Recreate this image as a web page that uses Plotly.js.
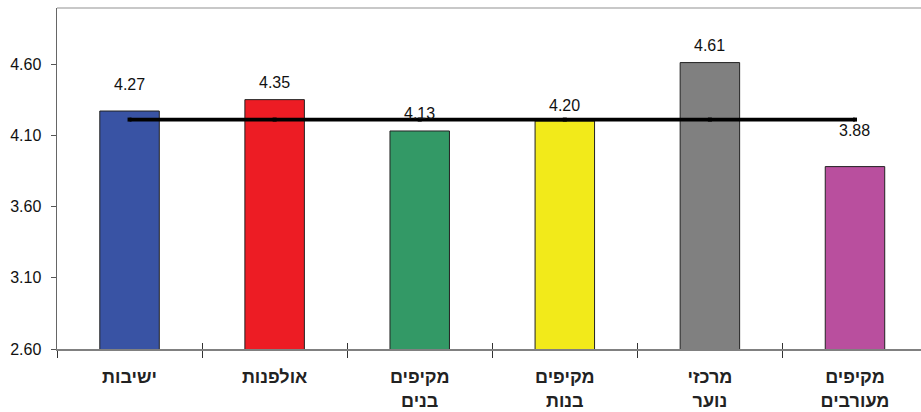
<!DOCTYPE html>
<html>
<head>
<meta charset="utf-8">
<script src="https://cdn.plot.ly/plotly-3.0.1.min.js"></script>
<style>
  html, body { margin: 0; padding: 0; background: #fff; }
  #chart { width: 921px; height: 412px; }
</style>
</head>
<body>
<div id="chart"></div>
<script>
// ---- data ----
const categories = ["ישיבות", "אולפנות", "מקיפים<br>בנים", "מקיפים<br>בנות", "מרכזי<br>נוער", "מקיפים<br>מעורבים"];
const values = [4.27, 4.35, 4.13, 4.20, 4.61, 3.88];
const valueLabels = ["4.27", "4.35", "4.13", "4.20", "4.61", "3.88"];
const averageLine = [4.21, 4.21, 4.21, 4.21, 4.21, 4.21];
const yTickVals = [2.6, 3.1, 3.6, 4.1, 4.6];
const yTickText = ["2.60", "3.10", "3.60", "4.10", "4.60"];

// ---- styles ----
const barColors = ["#3953A4", "#ED1C24", "#339966", "#F2EA1A", "#808080", "#B94F9E"];
const labelShift = [27, 17, 17, 16, 17, 36];
const FONT = "Arial, 'Liberation Sans', 'DejaVu Sans', sans-serif";

const bars = {
  type: "bar",
  x: categories,
  y: values,
  width: 0.41,
  marker: { color: barColors, line: { color: "#222", width: 1 } },
  hoverinfo: "skip",
  showlegend: false
};

const line = {
  type: "scatter",
  mode: "lines+markers",
  x: categories,
  y: averageLine,
  line: { color: "#000", width: 3.8 },
  marker: { symbol: "square", size: 4, color: "#000" },
  hoverinfo: "skip",
  showlegend: false
};

// dummy trace for the inner-tick overlay axis
const dummy = {
  type: "scatter", mode: "markers",
  x: categories, y: values,
  xaxis: "x2", yaxis: "y",
  marker: { opacity: 0 }, hoverinfo: "skip", showlegend: false
};

const annotations = values.map((v, i) => ({
  x: categories[i], y: v, xref: "x", yref: "y",
  text: valueLabels[i], showarrow: false,
  yanchor: "middle", yshift: labelShift[i],
  font: { family: FONT, size: 16, color: "#111" }
}));

const xRange = [-0.5, 5.455];

const layout = {
  width: 921, height: 412,
  margin: { l: 57, r: 0, t: 8, b: 63 },
  paper_bgcolor: "#fff", plot_bgcolor: "#fff",
  font: { family: FONT, color: "#111" },
  bargap: 0,
  xaxis: {
    type: "category",
    range: xRange,
    tickson: "boundaries",
    ticks: "outside", ticklen: 7, tickwidth: 1, tickcolor: "#333",
    showline: true, linecolor: "#808080", linewidth: 1.5,
    showgrid: false, zeroline: false,
    tickfont: { family: FONT, size: 18, color: "#222", weight: "bold" },
    ticklabelstandoff: 11,
    fixedrange: true
  },
  xaxis2: {
    type: "category",
    overlaying: "x",
    matches: "x",
    range: xRange,
    tickson: "boundaries",
    ticks: "inside", ticklen: 6, tickwidth: 1, tickcolor: "#333",
    showticklabels: false, showline: false, showgrid: false, zeroline: false,
    side: "bottom"
  },
  yaxis: {
    range: [2.6, 4.993],
    tickvals: yTickVals, ticktext: yTickText,
    ticks: "outside", ticklen: 5, tickwidth: 1, tickcolor: "#555",
    showline: true, linecolor: "#666", linewidth: 1.5,
    showgrid: false, zeroline: false,
    tickfont: { family: FONT, size: 16, color: "#111" },
    ticklabelstandoff: 6,
    fixedrange: true
  },
  shapes: [{
    type: "line", xref: "paper", yref: "paper",
    x0: 0, x1: 1, y0: 1, y1: 1,
    line: { color: "#c8c8c8", width: 2 }
  }],
  annotations: annotations
};

Plotly.newPlot("chart", [bars, dummy, line], layout, { displayModeBar: false, staticPlot: true });
</script>
</body>
</html>
